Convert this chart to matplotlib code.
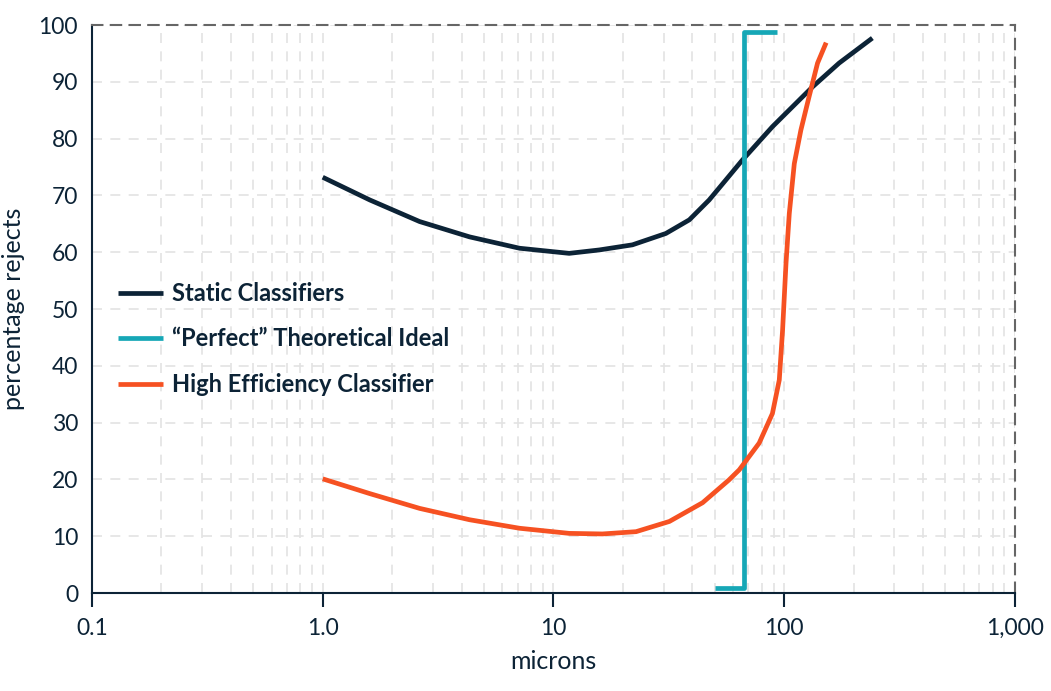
import matplotlib.pyplot as plt
from matplotlib.ticker import FixedLocator, FixedFormatter, LogLocator, NullFormatter

# data
static_x = [1.0, 1.6, 2.63, 4.33, 7.13, 11.7, 15.8, 22.0, 30.7, 38.8, 47.3, 55.8, 65.8,
            88.9, 132.6, 173, 241]
static_y = [73.2, 69.2, 65.4, 62.7, 60.7, 59.8, 60.4, 61.3, 63.3, 65.7, 69.2, 72.7, 76.2,
            82.1, 89.1, 93.3, 97.7]

ideal_x = [50.3, 67.1, 67.1, 93.3]
ideal_y = [0.9, 0.9, 98.8, 98.8]

hec_x = [1.0, 1.6, 2.63, 4.33, 7.13, 11.7, 16.3, 22.8, 31.8, 44.3, 57.6, 63.9, 77.9, 88.9,
         95.2, 98.4, 101.8, 105.2, 110.6, 118.1, 128.2, 139.5, 152]
hec_y = [20.1, 17.5, 14.9, 12.9, 11.4, 10.5, 10.4, 10.8, 12.6, 15.9, 19.9, 21.7, 26.4, 31.6,
         37.5, 46.3, 58.0, 66.8, 75.6, 81.5, 87.4, 93.3, 96.9]

x_ticks = [0.1, 1.0, 10, 100, 1000]
x_labels = ["0.1", "1.0", "10", "100", "1,000"]
y_ticks = list(range(0, 101, 10))

navy = "#0c2336"
teal = "#16a7b6"
orange = "#f65122"

plt.rcParams['font.family'] = ['Lato', 'DejaVu Sans']

fig = plt.figure(figsize=(10.51, 6.91), dpi=100)
ax = fig.add_axes([0.0875, 0.1418, 0.8782, 0.822])

ax.set_xscale("log")
ax.set_xlim(0.1, 1000)
ax.set_ylim(0, 100)

ax.plot(static_x, static_y, color=navy, lw=3.4, label="Static Classifiers",
        solid_capstyle="butt", solid_joinstyle="round")
ax.plot(ideal_x, ideal_y, color=teal, lw=3.4, label="\u201cPerfect\u201d Theoretical Ideal",
        solid_joinstyle="round", solid_capstyle="butt")
ax.plot(hec_x, hec_y, color=orange, lw=3.4, label="High Efficiency Classifier",
        solid_capstyle="butt", solid_joinstyle="round")

ax.xaxis.set_major_locator(FixedLocator(x_ticks))
ax.xaxis.set_major_formatter(FixedFormatter(x_labels))
ax.xaxis.set_minor_locator(LogLocator(base=10, subs=range(2, 10)))
ax.xaxis.set_minor_formatter(NullFormatter())
ax.set_yticks(y_ticks)

ax.grid(which="both", axis="x", color="#e3e3e3", lw=1.2, linestyle=(0, (6, 5)))
ax.grid(which="major", axis="y", color="#e3e3e3", lw=1.2, linestyle=(0, (6, 5)))
ax.set_axisbelow(True)

ax.tick_params(axis="x", which="major", direction="out", length=10, width=1.5,
               color=navy, labelsize=16.5, labelcolor=navy, pad=8)
ax.tick_params(axis="x", which="minor", length=0)
ax.tick_params(axis="y", length=0, labelsize=16.5, labelcolor=navy, pad=10)

for s in ["left", "bottom"]:
    ax.spines[s].set_color(navy)
    ax.spines[s].set_linewidth(1.5)
for s in ["top", "right"]:
    ax.spines[s].set_color("#666666")
    ax.spines[s].set_linewidth(1.5)
    ax.spines[s].set_linestyle((0, (5, 4)))

ax.set_xlabel("microns", fontsize=18, color=navy, labelpad=8)
ax.set_ylabel("percentage rejects", fontsize=18, color=navy, labelpad=10)

leg = ax.legend(loc="upper left", bbox_to_anchor=(0.005, 0.585), frameon=False,
                handlelength=1.9, handletextpad=0.4, labelspacing=0.95,
                prop={"weight": "bold", "size": 17})
for t in leg.get_texts():
    t.set_color(navy)

plt.savefig("out.png", dpi=100)
